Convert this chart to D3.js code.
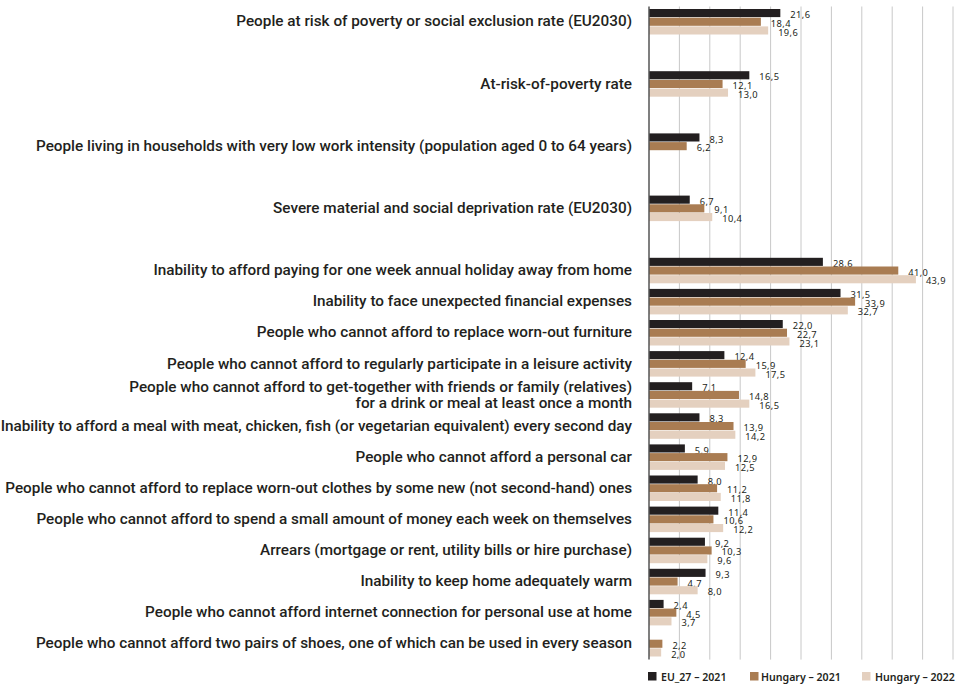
<!DOCTYPE html>
<html lang="en">
<head>
    <meta charset="UTF-8">
    <title>Poverty and deprivation indicators</title>
    <script src="https://d3js.org/d3.v7.min.js"></script>
    <style>
        body { margin: 0; background: #fff; }
        svg { display: block; }
        .catLabel { font-family: Roboto, "Noto Sans", sans-serif; font-size: 15.3px; font-weight: 500; fill: #231f20; }
        .valLabel { font-family: "Noto Sans", "DejaVu Sans", sans-serif; font-size: 9.3px; letter-spacing: 0.4px; fill: #231f20; }
        .legLabel { font-family: "Noto Sans", sans-serif; font-size: 10.6px; font-weight: 600; fill: #231f20; }
    </style>
</head>
<body>
<svg width="957" height="685"></svg>
<script>
    // categories (top to bottom), \n marks a line break
    const categories = [
        "People at risk of poverty or social exclusion rate (EU2030)",
        "At-risk-of-poverty rate",
        "People living in households with very low work intensity (population aged 0 to 64 years)",
        "Severe material and social deprivation rate (EU2030)",
        "Inability to afford paying for one week annual holiday away from home",
        "Inability to face unexpected financial expenses",
        "People who cannot afford to replace worn-out furniture",
        "People who cannot afford to regularly participate in a leisure activity",
        "People who cannot afford to get-together with friends or family (relatives)\nfor a drink or meal at least once a month",
        "Inability to afford a meal with meat, chicken, fish (or vegetarian equivalent) every second day",
        "People who cannot afford a personal car",
        "People who cannot afford to replace worn-out clothes by some new (not second-hand) ones",
        "People who cannot afford to spend a small amount of money each week on themselves",
        "Arrears (mortgage or rent, utility bills or hire purchase)",
        "Inability to keep home adequately warm",
        "People who cannot afford internet connection for personal use at home",
        "People who cannot afford two pairs of shoes, one of which can be used in every season"
    ];

    const seriesNames = ["EU_27 – 2021", "Hungary – 2021", "Hungary – 2022"];
    const seriesColors = ["#231f20", "#a97c52", "#e4d0bf"];

    const eu2021 = [21.6, 16.5, 8.3, 6.7, 28.6, 31.5, 22.0, 12.4, 7.1, 8.3, 5.9, 8.0, 11.4, 9.2, 9.3, 2.4, null];
    const hu2021 = [18.4, 12.1, 6.2, 9.1, 41.0, 33.9, 22.7, 15.9, 14.8, 13.9, 12.9, 11.2, 10.6, 10.3, 4.7, 4.5, 2.2];
    const hu2022 = [19.6, 13.0, null, 10.4, 43.9, 32.7, 23.1, 17.5, 16.5, 14.2, 12.5, 11.8, 12.2, 9.6, 8.0, 3.7, 2.0];

    const gridTicks = [0, 5, 10, 15, 20, 25, 30, 35, 40, 45, 50];

    const svg = d3.select("svg");

    // the first four indicators are followed by an empty row
    const slots = [];
    categories.forEach((c, i) => {
        slots.push(c);
        if (i < 4) slots.push("gap" + i);
    });

    const x = d3.scaleLinear().domain([0, 50]).range([649, 953]);
    const y = d3.scaleBand().domain(slots).range([6.5, 659.6]).padding(0);
    const groupH = 26.1;
    const yInner = d3.scaleBand().domain(seriesNames).range([0, groupH]).padding(0);
    const groupOffset = (y.bandwidth() - groupH) / 2;

    // gridlines
    svg.append("g")
        .selectAll("line")
        .data(gridTicks.slice(1))
        .join("line")
        .attr("x1", d => x(d))
        .attr("x2", d => x(d))
        .attr("y1", y.range()[0])
        .attr("y2", y.range()[1])
        .attr("stroke", "#c8c8c8")
        .attr("stroke-width", 1);

    // rows of bars
    const rows = categories.map((c, i) => ({
        cat: c,
        vals: [eu2021[i], hu2021[i], hu2022[i]]
    }));

    const groups = svg.append("g")
        .selectAll("g")
        .data(rows)
        .join("g")
        .attr("transform", d => `translate(0,${y(d.cat) + groupOffset})`);

    const bars = groups.selectAll("g.bar")
        .data(d => d.vals.map((v, j) => ({ v: v, s: seriesNames[j], j: j })).filter(e => e.v !== null))
        .join("g")
        .attr("class", "bar");

    bars.append("rect")
        .attr("x", x(0))
        .attr("y", d => yInner(d.s))
        .attr("width", d => x(d.v) - x(0))
        .attr("height", yInner.bandwidth() - 0.6)
        .attr("fill", d => seriesColors[d.j]);

    const fmt = v => d3.format(".1f")(v).replace(".", ",");

    bars.append("text")
        .attr("class", "valLabel")
        .attr("x", d => x(d.v) + 10)
        .attr("y", d => yInner(d.s) + yInner.bandwidth() / 2 + 1.5)
        .attr("dy", "0.35em")
        .text(d => fmt(d.v));

    // category labels
    const labels = svg.append("g")
        .selectAll("text")
        .data(categories)
        .join("text")
        .attr("class", "catLabel")
        .attr("text-anchor", "end")
        .attr("transform", d => `translate(632,${y(d) + y.bandwidth() / 2 - 1})`);

    labels.each(function (d) {
        const lines = d.split("\n");
        const t = d3.select(this);
        lines.forEach((line, k) => {
            t.append("tspan")
                .attr("x", 0)
                .attr("y", (k - (lines.length - 1) / 2) * 16)
                .attr("dy", "0.35em")
                .text(line);
        });
    });

    // y axis line
    svg.append("line")
        .attr("x1", x(0))
        .attr("x2", x(0))
        .attr("y1", y.range()[0])
        .attr("y2", y.range()[1])
        .attr("stroke", "#555")
        .attr("stroke-width", 1.5);

    // legend
    const legendX = [648, 750, 862];
    const legend = svg.append("g")
        .selectAll("g")
        .data(seriesNames)
        .join("g")
        .attr("transform", (d, i) => `translate(${legendX[i]},672)`);

    legend.append("rect")
        .attr("width", 8.5)
        .attr("height", 8.5)
        .attr("fill", (d, i) => seriesColors[i]);

    legend.append("text")
        .attr("class", "legLabel")
        .attr("x", (d, i) => i === 1 ? 11 : 13)
        .attr("y", 8.5)
        .text(d => d);
</script>
</body>
</html>
